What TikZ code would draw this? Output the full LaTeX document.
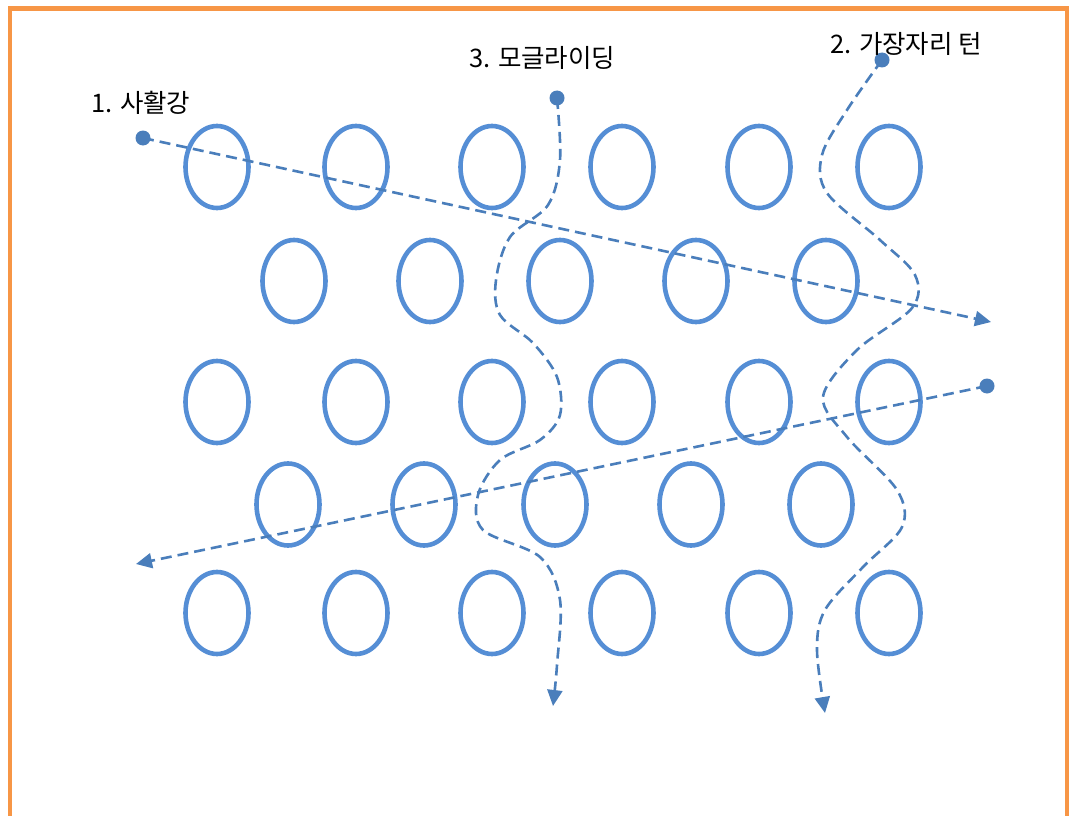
\documentclass[tikz,border=0pt]{standalone}
\usepackage{fontspec}
\newfontfamily\krfont{Noto Sans CJK KR}
\usetikzlibrary{shapes.geometric,arrows.meta}
\definecolor{ringblue}{HTML}{558ED5}
\definecolor{pathblue}{HTML}{4A7EBB}
\definecolor{frameorange}{HTML}{F79646}
\tikzset{
  ring/.style={ellipse, draw=ringblue, line width=4.6pt, inner sep=0pt, minimum width=63pt, minimum height=82pt},
  startdot/.style={circle, fill=pathblue, inner sep=0pt, minimum size=15pt},
  route/.style={draw=pathblue, line width=2.6pt, dash pattern=on 11pt off 6pt, -{Triangle[length=16pt,width=15pt]}},
  lbl/.style={font=\krfont\fontsize{25.5}{28}\selectfont, anchor=base west, inner sep=0pt}
}
\begin{document}
\begin{tikzpicture}[x=1pt,y=-1pt]
\useasboundingbox (0,0) rectangle (1069,816);
\begin{scope}
\clip (0,0) rectangle (1069,816);
\draw[frameorange, line width=4.5pt] (10,8.5) rectangle (1067,860);
\end{scope}
% ellipses
\foreach \x [count=\i] in {217,356,492,622,759,889} {
  \node[ring] (a\i) at (\x,167) {};
  \node[ring] (c\i) at (\x,402) {};
  \node[ring] (e\i) at (\x,613) {};
}
\foreach \x [count=\i] in {294,430,560,696,826} {
  \node[ring] (b\i) at (\x,281) {};
}
\foreach \x [count=\i] in {288,424,555,691,821} {
  \node[ring] (d\i) at (\x,504.5) {};
}
% start dots
\node[startdot] (s1) at (143,138) {};
\node[startdot] (s2) at (882,60) {};
\node[startdot] (s3) at (557,98) {};
\node[startdot] (s4) at (987,386) {};
\coordinate (t1) at (991,322);
\coordinate (t2) at (825,713);
\coordinate (t3) at (553,706);
\coordinate (t4) at (136,564);
% labels
\node[lbl] (l1) at (91,113) {1. 사활강};
\node[lbl] (l3) at (469,67) {3. 모글라이딩};
\node[lbl] (l2) at (830,54) {2. 가장자리 턴};
% routes
\draw[route] (s1.center) -- (t1);
\draw[route] (s4.center) -- (t4);
\draw[route] plot[smooth, tension=0.55] coordinates {(557,98) (560,160) (548,205) (510,237) (496,280) (500,315) (533,343) (557,377) (560,415) (540,440) (500,460) (478,495) (483,530) (540,557) (560,600) (557,665) (t3)};
\draw[route] plot[smooth, tension=0.55] coordinates {(882,60) (847,110) (822,155) (827,193) (880,240) (915,275) (912,308) (857,350) (823,397) (847,437) (897,490) (902,527) (863,567) (825,610) (817,650) (t2)};
\end{tikzpicture}
\end{document}
